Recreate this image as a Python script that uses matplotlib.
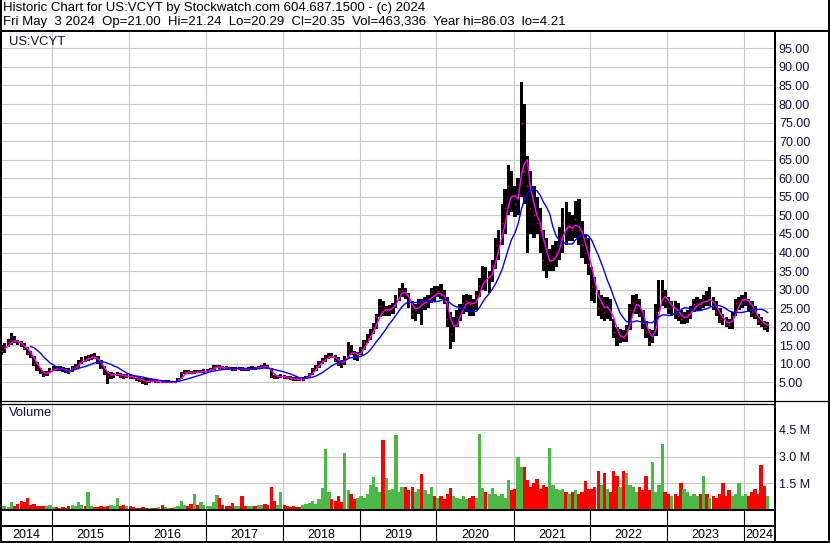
import numpy as np
import pandas as pd
import matplotlib
matplotlib.use('Agg')
import matplotlib.pyplot as plt
import matplotlib.dates as mdates
import matplotlib.transforms as mtransforms
from matplotlib.lines import Line2D

plt.rcParams['font.family'] = ['Liberation Sans', 'DejaVu Sans']

W, H = 830, 543

# half-month periods, May 2014 .. Apr 2024
periods = pd.date_range('2014-05-01', periods=240, freq='SMS')

# high / low / close per half month
hi = [
    15.0, 15.5, 16.8, 18.2, 17.5, 16.5, 16.2, 15.5, 14.5, 13.5, 12.0, 10.5, 9.0, 8.0, 8.2, 8.8,
    9.5, 9.5, 9.4, 9.2, 9.0, 8.8, 9.3, 10.0, 11.0, 11.8, 12.0, 12.3, 12.7, 13.0, 12.0, 11.0, 9.5, 8.0, 7.8, 7.6, 7.8, 7.5, 7.2, 7.4,
    7.4, 7.0, 6.8, 6.5, 6.3, 6.2, 6.0, 6.0, 5.8, 5.7, 5.6, 5.6, 5.6, 5.5, 5.5, 6.2, 7.8, 8.3, 8.4, 8.2, 8.3, 8.4, 8.3, 8.5,
    8.6, 9.0, 9.6, 9.8, 9.6, 9.4, 9.3, 9.2, 9.2, 9.1, 9.2, 9.1, 9.0, 9.1, 9.3, 9.2, 9.4, 9.8, 10.2, 9.8, 9.0, 7.0, 7.0, 7.2,
    7.0, 6.8, 6.6, 6.5, 6.4, 6.3, 6.4, 6.8, 7.5, 8.8, 9.8, 10.8, 11.5, 12.3, 12.8, 13.0, 12.5, 11.8, 11.0, 12.0, 15.8, 15.0, 13.5, 13.2,
    14.5, 16.5, 18.0, 19.5, 21.0, 23.5, 27.5, 27.0, 25.5, 25.8, 26.5, 28.5, 30.5, 31.8, 30.5, 29.0, 27.0, 26.0, 27.5, 27.5, 28.0, 28.5, 30.5, 31.0,
    31.0, 31.5, 30.0, 28.0, 24.0, 22.5, 24.5, 26.0, 28.5, 28.7, 28.5, 27.5, 29.5, 33.0, 36.5, 36.0, 35.0, 38.0, 44.0, 46.0, 53.0, 57.0, 63.5, 62.0,
    58.0, 60.0, 86.0, 80.0, 66.0, 62.0, 58.0, 55.0, 52.0, 46.0, 44.0, 41.0, 42.0, 43.0, 47.0, 52.0, 53.5, 51.0, 50.0, 54.0, 54.5, 48.5, 45.0, 44.0,
    36.0, 33.5, 30.0, 28.5, 28.0, 28.0, 27.5, 22.0, 20.0, 19.5, 19.0, 20.5, 26.0, 28.5, 28.9, 27.5, 24.5, 21.5, 19.5, 19.0, 26.0, 32.5, 32.5, 30.0,
    28.0, 27.0, 27.0, 26.5, 24.5, 24.0, 24.5, 25.5, 27.5, 28.0, 27.5, 28.5, 29.5, 30.7, 28.0, 27.0, 25.0, 23.5, 22.5, 22.0, 24.0, 27.5, 28.0, 28.5,
    29.4, 27.5, 27.0, 25.5, 23.5, 22.5, 21.5, 21.2,
]
lo = [
    12.5, 13.0, 14.5, 15.2, 15.5, 15.0, 14.5, 13.8, 12.5, 11.5, 9.5, 8.0, 7.2, 6.5, 6.8, 7.5,
    8.0, 8.2, 8.0, 7.9, 7.6, 7.2, 7.8, 8.5, 9.0, 10.0, 10.5, 10.8, 11.0, 11.2, 10.0, 8.5, 7.0, 4.6, 6.0, 6.3, 6.6, 6.2, 6.0, 6.2,
    6.0, 5.8, 5.5, 5.2, 4.6, 4.21, 4.8, 5.0, 4.8, 4.8, 4.8, 4.8, 4.9, 4.8, 4.8, 5.0, 6.0, 7.2, 7.3, 7.2, 7.4, 7.5, 7.5, 7.6,
    7.8, 8.0, 8.4, 8.8, 8.6, 8.5, 8.4, 8.3, 8.2, 8.1, 8.3, 8.2, 8.1, 8.2, 8.4, 8.3, 8.5, 8.7, 9.0, 8.6, 6.2, 6.0, 6.0, 6.2,
    6.0, 5.8, 5.6, 5.5, 5.3, 5.4, 5.4, 5.8, 6.2, 7.0, 8.2, 9.0, 10.0, 10.5, 11.2, 11.5, 10.5, 9.5, 9.0, 9.8, 11.5, 12.5, 11.0, 10.8,
    12.5, 13.8, 15.5, 16.5, 18.0, 19.5, 22.5, 23.0, 22.8, 23.0, 23.5, 25.0, 27.0, 28.0, 27.5, 25.0, 22.0, 21.5, 23.5, 20.5, 24.5, 25.0, 26.5, 27.0,
    28.0, 27.5, 26.0, 20.0, 14.0, 16.0, 20.0, 21.5, 23.5, 24.0, 23.0, 22.8, 24.5, 28.0, 30.0, 29.6, 29.0, 32.0, 35.5, 38.0, 42.0, 45.0, 50.0, 51.0,
    49.5, 50.0, 55.0, 53.0, 40.0, 45.0, 44.0, 45.0, 40.0, 35.0, 33.0, 35.0, 35.0, 36.0, 38.0, 40.0, 42.0, 43.0, 43.0, 44.0, 42.0, 38.5, 37.0, 34.0,
    27.0, 26.5, 23.0, 22.0, 21.5, 22.0, 21.5, 17.0, 14.8, 15.5, 15.8, 16.0, 19.0, 23.5, 23.5, 22.5, 19.5, 17.0, 14.8, 15.5, 17.5, 24.0, 25.5, 25.0,
    23.5, 23.0, 22.0, 21.5, 20.7, 20.7, 21.0, 22.0, 24.0, 24.5, 24.5, 25.0, 25.5, 25.5, 24.5, 23.0, 21.0, 20.5, 20.0, 19.5, 19.4, 23.0, 24.5, 25.0,
    25.5, 24.0, 22.5, 22.0, 20.5, 19.8, 19.0, 18.5,
]
cl = [
    13.5, 14.8, 16.0, 16.5, 16.2, 15.6, 15.0, 14.2, 13.0, 12.0, 10.0, 8.5, 7.6, 7.0, 7.6, 8.3,
    8.8, 8.7, 8.6, 8.5, 8.2, 7.8, 8.8, 9.5, 10.5, 11.2, 11.0, 11.8, 12.0, 11.6, 10.5, 9.0, 7.5, 6.8, 7.0, 7.2, 7.3, 6.8, 6.5, 6.8,
    6.5, 6.3, 6.0, 5.6, 5.4, 5.0, 5.5, 5.4, 5.2, 5.2, 5.1, 5.2, 5.2, 5.1, 5.2, 5.8, 7.5, 7.8, 7.7, 7.6, 7.9, 7.8, 7.9, 8.0,
    8.2, 8.6, 9.2, 9.3, 9.0, 8.9, 8.8, 8.7, 8.6, 8.7, 8.8, 8.6, 8.5, 8.7, 8.9, 8.8, 9.0, 9.4, 9.3, 8.9, 6.6, 6.5, 6.6, 6.7,
    6.4, 6.2, 6.0, 5.9, 5.8, 5.7, 6.0, 6.5, 7.2, 8.5, 9.5, 10.4, 11.0, 11.8, 12.2, 12.0, 11.0, 10.2, 10.0, 11.5, 14.0, 13.0, 12.0, 12.5,
    14.0, 16.0, 17.0, 18.8, 20.0, 22.8, 25.5, 24.0, 24.5, 24.8, 25.8, 27.5, 29.5, 30.0, 28.5, 26.0, 23.5, 25.0, 26.5, 26.0, 26.8, 27.5, 29.0, 28.5,
    29.5, 28.5, 27.0, 22.0, 18.0, 20.5, 22.5, 25.0, 26.5, 27.0, 26.0, 25.5, 28.5, 31.0, 34.5, 32.0, 33.5, 36.5, 42.0, 43.0, 48.0, 52.0, 58.0, 55.0,
    53.0, 55.0, 75.0, 62.0, 58.0, 52.0, 50.0, 48.0, 46.0, 38.0, 37.0, 38.0, 38.5, 40.0, 44.0, 48.0, 46.5, 47.0, 46.0, 49.0, 46.0, 42.0, 40.0, 37.0,
    31.0, 29.0, 25.0, 26.5, 24.0, 25.5, 23.0, 18.5, 17.0, 17.5, 17.0, 19.5, 24.5, 26.5, 27.0, 23.5, 21.0, 18.5, 16.0, 17.5, 24.0, 28.0, 29.5, 27.0,
    25.0, 25.5, 24.5, 23.0, 22.0, 22.5, 23.5, 24.5, 26.0, 26.5, 26.0, 27.5, 27.0, 27.5, 25.5, 24.0, 22.0, 21.5, 21.0, 20.5, 23.0, 26.5, 27.0, 27.5,
    27.5, 26.0, 24.0, 23.0, 21.5, 21.0, 20.0, 20.35,
]
# volume, millions of shares
vol = [
    0.2, 0.2, 0.15, 0.45, 0.2, 0.35, 0.5, 0.45, 0.7, 0.3, 0.35, 0.25, 0.2, 0.25, 0.2, 0.3,
    0.15, 0.15, 0.1, 0.15, 0.12, 0.2, 0.3, 0.25, 0.45, 0.3, 0.2, 1.0, 0.25, 0.15, 0.15, 0.2, 0.15, 0.2, 0.3, 0.2, 0.7, 0.25, 0.3, 0.25,
    0.2, 0.15, 0.12, 0.1, 0.15, 0.12, 0.1, 0.12, 0.1, 0.15, 0.3, 0.15, 0.12, 0.1, 0.15, 0.25, 0.5, 0.3, 0.25, 0.35, 0.9, 0.3, 0.45, 0.3,
    0.25, 0.2, 0.45, 0.85, 0.7, 0.3, 0.25, 0.2, 0.4, 0.25, 0.2, 0.8, 0.25, 0.2, 0.2, 0.25, 0.3, 0.3, 0.35, 0.3, 1.3, 0.5, 0.3, 1.0,
    0.3, 0.2, 0.15, 0.2, 0.15, 0.15, 0.3, 0.35, 0.4, 0.5, 0.35, 0.6, 1.25, 3.4, 1.0, 0.6, 0.5, 0.8, 0.45, 3.2, 1.1, 0.9, 0.6, 0.7,
    0.8, 0.7, 0.9, 1.4, 1.85, 1.3, 1.0, 3.9, 1.8, 1.1, 1.2, 4.2, 1.0, 1.3, 1.3, 1.1, 1.3, 1.0, 1.2, 2.0, 1.1, 0.9, 1.3, 0.8,
    0.7, 0.8, 0.6, 0.9, 1.25, 0.8, 0.7, 0.6, 0.8, 0.6, 0.7, 0.8, 0.7, 4.25, 1.25, 1.0, 0.9, 1.25, 0.9, 0.8, 0.9, 0.7, 1.7, 1.1,
    1.2, 2.95, 2.4, 2.4, 1.7, 1.3, 1.5, 1.75, 1.2, 1.4, 1.3, 3.45, 1.4, 1.2, 1.1, 1.2, 1.0, 0.9, 1.0, 1.1, 0.9, 1.0, 1.6, 1.2,
    1.2, 1.3, 2.2, 1.4, 2.1, 1.2, 1.0, 2.2, 1.9, 1.3, 2.2, 2.1, 1.4, 1.3, 1.0, 1.3, 1.1, 1.9, 1.1, 2.7, 1.0, 1.4, 3.7, 1.0,
    0.9, 0.8, 0.9, 0.8, 1.5, 1.2, 1.0, 0.8, 0.9, 0.8, 0.9, 1.9, 0.9, 0.7, 0.8, 0.7, 0.9, 1.5, 0.8, 1.1, 0.8, 0.9, 1.5, 0.8,
    0.9, 0.8, 1.0, 1.2, 0.9, 2.55, 1.35, 0.8,
]

price_ticks = np.arange(5, 100, 5)
vol_ticks = [1.5, 3.0, 4.5]
vol_labels = ['1.5 M', '3.0 M', '4.5 M']
years = list(range(2014, 2025))

header1 = 'Historic Chart for US:VCYT by Stockwatch.com 604.687.1500 - (c) 2024'
header2 = 'Fri May  3 2024  Op=21.00  Hi=21.24  Lo=20.29  Cl=20.35  Vol=463,336  Year hi=86.03  lo=4.21'

hi = np.array(hi)
lo = np.array(lo)
cl = np.array(cl)
vol = np.array(vol)

# moving averages (short ~ 1 month, long ~ 5 months)
ma_short = pd.Series(cl).rolling(3, min_periods=2).mean()
ma_long = pd.Series(cl).rolling(10).mean()

xn = mdates.date2num(periods + pd.Timedelta(days=7))
x0 = mdates.date2num(pd.Timestamp('2014-05-04'))
x1 = mdates.date2num(pd.Timestamp('2024-05-22'))
ybounds = [mdates.date2num(pd.Timestamp(f'{y}-01-01')) for y in years[1:]]

TXT = '#10103a'
GRID = '#c8c8c8'

fig = plt.figure(figsize=(W / 100, H / 100), dpi=100)
fig.patch.set_facecolor('white')


def add_ax(px0, py0, px1, py1):
    ax = fig.add_axes([px0 / W, 1 - py1 / H, (px1 - px0) / W, (py1 - py0) / H])
    ax.set_xlim(x0, x1)
    for s in ax.spines.values():
        s.set_visible(False)
    ax.set_xticks(ybounds)
    ax.tick_params(axis='x', length=0, labelbottom=False)
    return ax


def hline(y, xa, xb, lw=1.44):
    fig.add_artist(Line2D([xa / W, xb / W], [1 - y / H, 1 - y / H], color='black',
                          lw=lw, transform=fig.transFigure, solid_capstyle='butt'))


def vline(x, ya, yb, lw=1.44):
    fig.add_artist(Line2D([x / W, x / W], [1 - ya / H, 1 - yb / H], color='black',
                          lw=lw, transform=fig.transFigure, solid_capstyle='butt'))


# price panel
axp = add_ax(1, 32, 774, 401)
axp.set_ylim(0, 99.4)
axp.set_yticks(price_ticks)
axp.set_yticklabels([f'{v:.2f}' for v in price_ticks])
axp.yaxis.tick_right()
axp.tick_params(axis='y', length=0, pad=3.5, labelsize=9, labelcolor=TXT)
axp.grid(True, color=GRID, lw=0.8)
axp.set_axisbelow(True)
axp.bar(xn, hi - lo, bottom=lo, width=15.5, color='black', linewidth=0)
axp.plot(xn, cl, ls='none', marker='s', ms=1.1, mew=0, color='red')
axp.plot(xn, ma_short, color='#ff00ff', lw=1.0)
axp.plot(xn, ma_long, color='#0000ff', lw=1.0)
axp.text(8 / 773, 1 - 10 / 369, 'US:VCYT', transform=axp.transAxes, fontsize=9.4,
         color=TXT, va='center', ha='left')

# volume panel
axv = add_ax(1, 403, 774, 510)
axv.set_ylim(0, 6.0)
axv.set_yticks(vol_ticks)
axv.set_yticklabels(vol_labels)
axv.yaxis.tick_right()
axv.tick_params(axis='y', length=0, pad=3.5, labelsize=9, labelcolor=TXT)
axv.grid(True, color=GRID, lw=0.8)
axv.set_axisbelow(True)
chg = np.diff(cl, prepend=cl[0])
vcol = np.where(chg >= 0, '#4cb848', '#ff0000')
axv.bar(xn, vol, width=16, color=vcol, linewidth=0)
axv.text(8 / 773, 1 - 10 / 107, 'Volume', transform=axv.transAxes, fontsize=9.4,
         color=TXT, va='center', ha='left')

# blank strip and year strip
axs = add_ax(1, 510, 774, 526)
axs.set_yticks([])
axy = add_ax(1, 526, 774, 542)
axy.set_yticks([])
for b in ybounds:
    axs.axvline(b, color='black', lw=0.8)
    axy.axvline(b, color='black', lw=0.8)
trans = mtransforms.blended_transform_factory(axy.transData, axy.transAxes)
for y in years:
    a = max(mdates.date2num(pd.Timestamp(f'{y}-01-01')), x0)
    b = min(mdates.date2num(pd.Timestamp(f'{y + 1}-01-01')), x1)
    axy.text((a + b) / 2, 0.45, str(y), transform=trans, ha='center', va='center',
             fontsize=9, color='black')

# header
fig.text(3 / W, 1 - 8.5 / H, header1, fontsize=9.5, va='center', ha='left')
fig.text(3 / W, 1 - 21.5 / H, header2, fontsize=9.5, va='center', ha='left')

# frame lines
hline(31, 0, W)
vline(1, 0, H)
vline(829, 0, H)
vline(775, 31, H)
hline(401, 0, W, lw=0.9)
hline(404, 0, 775, lw=0.9)
hline(510, 0, 775)
hline(526, 0, 775)
hline(542, 0, W)

fig.savefig('out.png', dpi=100)
